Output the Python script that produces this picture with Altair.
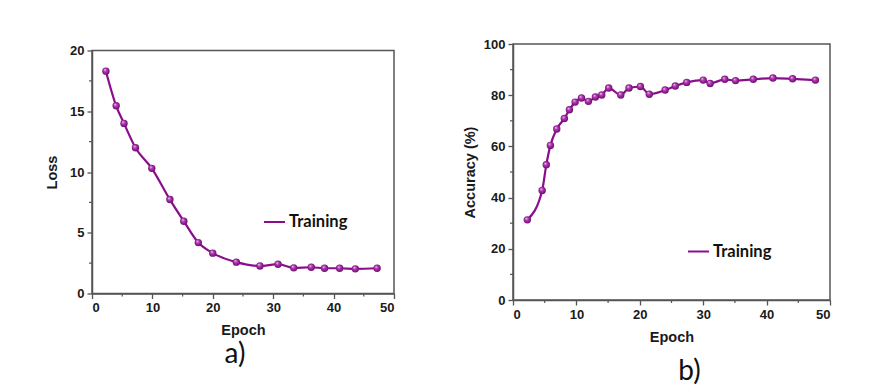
import altair as alt
import pandas as pd

# ---------------- data ----------------
loss_epoch = [2.3, 4.0, 5.3, 7.2, 9.9, 12.9, 15.2, 17.6, 20.0, 23.9, 27.8, 30.8,
              33.4, 36.3, 38.5, 41.0, 43.6, 47.2]
loss_value = [18.3, 15.45, 14.0, 12.0, 10.3, 7.73, 5.95, 4.19, 3.32, 2.58, 2.27, 2.41,
              2.11, 2.16, 2.08, 2.08, 2.03, 2.08]

acc_epoch = [2.26, 4.6, 5.25, 5.9, 6.9, 8.1, 8.9, 9.8, 10.8, 11.9, 13.0, 14.0, 15.1,
             17.0, 18.3, 20.1, 21.5, 24.0, 25.6, 27.4, 30.0, 31.1, 33.4, 35.1, 37.9,
             41.0, 44.1, 47.7]
acc_value = [31.3, 42.8, 52.8, 60.4, 66.8, 70.9, 74.3, 77.3, 78.9, 77.6, 79.3, 80.1,
             82.8, 80.1, 82.8, 83.4, 80.4, 82.0, 83.6, 85.0, 85.9, 84.6, 86.2, 85.7,
             86.2, 86.7, 86.4, 85.9]

x_ticks = [0, 10, 20, 30, 40, 50]
x_minor = [5, 15, 25, 35, 45]
loss_ticks = [0, 5, 10, 15, 20]
loss_minor = [2.5, 7.5, 12.5, 17.5]
acc_ticks = [0, 20, 40, 60, 80, 100]
acc_minor = [10, 30, 50, 70, 90]
series_name = "Training"

PURPLE = "#8A0E8C"
LEGEND_PURPLE = "#7A3AA6"
AXIS = "#555555"
TXT = "#1a1a1a"

sphere = {
    "gradient": "radial",
    "x1": 0.35, "y1": 0.3, "r1": 0.0,
    "x2": 0.5, "y2": 0.5, "r2": 0.6,
    "stops": [
        {"offset": 0.0, "color": "#f6dcf6"},
        {"offset": 0.35, "color": "#b23ab4"},
        {"offset": 1.0, "color": "#5e005f"},
    ],
}


def axis(values, title, pad):
    return alt.Axis(values=values, title=title, titlePadding=pad, grid=False)


def panel(epochs, values, ydomain, yticks, yminor, ytitle, w, h,
          legx, legy, label, label_dx, label_offset, ytitle_pad, xtitle_pad):
    df = pd.DataFrame({"epoch": epochs, "value": values,
                       "series": [series_name] * len(epochs)})
    base = alt.Chart(df)
    xs = alt.Scale(domain=[0, 50], nice=False, zero=False)
    ys = alt.Scale(domain=ydomain, nice=False, zero=False)
    line = base.mark_line(interpolate="monotone", strokeWidth=2.2).encode(
        x=alt.X("epoch:Q", scale=xs, axis=axis(x_ticks, "Epoch", xtitle_pad)),
        y=alt.Y("value:Q", scale=ys, axis=axis(yticks, ytitle, ytitle_pad)),
        color=alt.Color("series:N",
                        scale=alt.Scale(domain=[series_name], range=[PURPLE]),
                        legend=alt.Legend(orient="none", legendX=legx, legendY=legy,
                                          title=None, symbolType="stroke",
                                          symbolSize=440, symbolStrokeWidth=2,
                                          symbolStrokeColor=LEGEND_PURPLE,
                                          labelFont="Lato", labelFontSize=16.5,
                                          labelFontWeight="bold", labelColor="#111",
                                          labelOffset=3)),
    )
    pts = base.mark_circle(size=55, opacity=1, fill=sphere, stroke=None).encode(
        x=alt.X("epoch:Q", scale=xs), y=alt.Y("value:Q", scale=ys))
    xm = alt.Chart(pd.DataFrame({"m": x_minor})).mark_rule(
        color=AXIS, strokeWidth=1.2).encode(
        x=alt.X("m:Q", scale=xs), y=alt.value(h), y2=alt.value(h + 3))
    ym = alt.Chart(pd.DataFrame({"m": yminor})).mark_rule(
        color=AXIS, strokeWidth=1.2).encode(
        y=alt.Y("m:Q", scale=ys), x=alt.value(0), x2=alt.value(-3))
    return alt.layer(line, pts, xm, ym).properties(
        width=w, height=h,
        title=alt.Title(label, orient="bottom", fontSize=28, font="Lato",
                        fontWeight="normal", color="#111", dx=label_dx,
                        offset=label_offset),
    )


left = panel(loss_epoch, loss_value, [0, 20], loss_ticks, loss_minor, "Loss",
             302, 243, 171, 160, "a)", -8, 4, 10, 9)
right = panel(acc_epoch, acc_value, [0, 100], acc_ticks, acc_minor, "Accuracy (%)",
              317, 256, 174, 196, "b)", 18, 14, 6, 9)

# invisible anchor so that the page's top-left corner is at (0, 0)
anchor = alt.Chart(pd.DataFrame({"a": [0]})).mark_rule(
    color="white", strokeWidth=1).encode(
    x=alt.value(-511), x2=alt.value(-510), y=alt.value(-42))
right = alt.layer(right, anchor)

chart = alt.hconcat(left, right, spacing=119, center=True, bounds="flush").resolve_legend(
    color="independent"
).properties(padding=0, background="white").configure_axis(
    grid=False,
    labelFont="Liberation Sans", labelFontSize=13, labelFontWeight="bold",
    labelColor=TXT, labelPadding=3,
    titleFont="Liberation Sans", titleFontSize=14.5, titleFontWeight="bold",
    titleColor=TXT,
    domainColor=AXIS, domainWidth=1.5, tickColor=AXIS, tickSize=5, tickWidth=1.3,
).configure_view(stroke=AXIS, strokeWidth=1.5)

chart.save("out.html", embed_options={"renderer": "svg", "actions": False})
